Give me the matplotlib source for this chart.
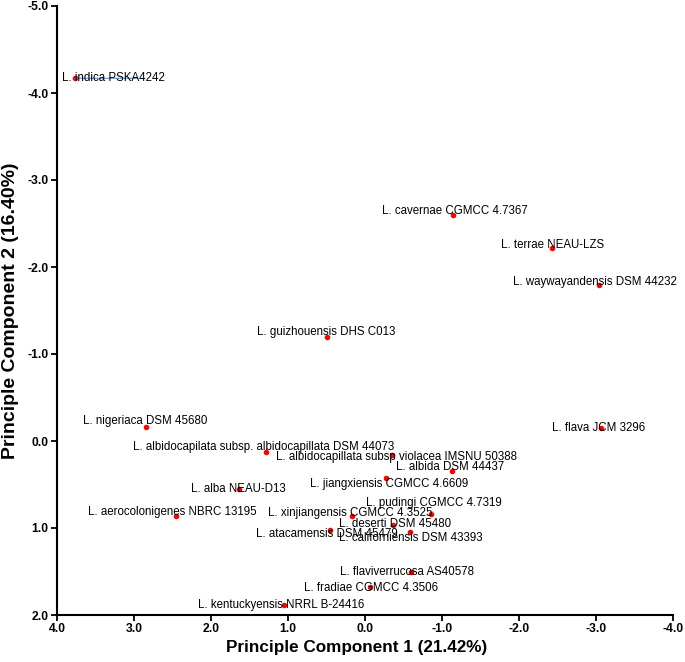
import matplotlib
matplotlib.use("Agg")
import matplotlib.pyplot as plt
from matplotlib.ticker import FormatStrFormatter

plt.rcParams['font.family'] = ['Liberation Sans', 'DejaVu Sans']

names = [
    "L. indica PSKA4242",
    "L. cavernae CGMCC 4.7367",
    "L. terrae NEAU-LZS",
    "L. waywayandensis DSM 44232",
    "L. guizhouensis DHS C013",
    "L. nigeriaca DSM 45680",
    "L. albidocapilata subsp. albidocapillata DSM 44073",
    "L. albidocapillata subsp violacea IMSNU 50388",
    "L. albida DSM 44437",
    "L. jiangxiensis CGMCC 4.6609",
    "L. flava JCM 3296",
    "L. alba NEAU-D13",
    "L. aerocolonigenes NBRC 13195",
    "L. pudingi CGMCC 4.7319",
    "L. xinjiangensis CGMCC 4.3525",
    "L. deserti DSM 45480",
    "L. californiensis DSM 43393",
    "L. atacamensis DSM 45479",
    "L. flaviverrucosa AS40578",
    "L. fradiae CGMCC 4.3506",
    "L. kentuckyensis NRRL B-24416",
]
pc1 = [3.77, -1.14, -2.43, -3.04, 0.49, 2.85, 1.28, -0.35, -1.13, -0.27, -3.07,
       1.63, 2.45, -0.86, 0.17, -0.36, -0.58, 0.45, -0.60, -0.07, 1.05]
pc2 = [-4.17, -2.60, -2.22, -1.79, -1.19, -0.16, 0.13, 0.16, 0.35, 0.42, -0.15,
       0.55, 0.86, 0.84, 0.86, 0.97, 1.05, 1.02, 1.51, 1.68, 1.88]

x_ticks = [4.0, 3.0, 2.0, 1.0, 0.0, -1.0, -2.0, -3.0, -4.0]
y_ticks = [-5.0, -4.0, -3.0, -2.0, -1.0, 0.0, 1.0, 2.0]

# label offsets in pixels (left edge of text relative to the point; dy downward)
label_dx = [-13, -71, -51, -86, -70, -63, -133, -116, -56, -76, -49, -48, -88,
            -65, -84, -54, -71, -74, -71, -66, -86]
label_dy = [0, -4, -3, -3, -5, -6, -5, 2, -4, 6, 0, 0, -4, -11, -3, -1, 6, 4, 0, 1, 0]
# leader lines: index -> relpos on text bbox
leaders = {0: (0.745, 0.5), 13: (0.51, 0.0)}

fig = plt.figure(figsize=(6.85, 6.62), dpi=100)
ax = fig.add_axes([57 / 685, 47 / 662, 616 / 685, 609 / 662])

ax.scatter(pc1, pc2, s=16, color='#ff0000', zorder=3, linewidths=0)

for i, (n, x, y) in enumerate(zip(names, pc1, pc2)):
    kw = {}
    if i in leaders:
        kw['arrowprops'] = dict(arrowstyle='-', color='#4f81bd', lw=0.7,
                                shrinkA=0, shrinkB=0, relpos=leaders[i])
    ax.annotate(n, xy=(x, y), xytext=(label_dx[i], -label_dy[i]),
                textcoords='offset pixels', ha='left', va='center',
                fontsize=8.3, color='black', zorder=4, **kw)

ax.set_xlim(max(x_ticks), min(x_ticks))
ax.set_ylim(max(y_ticks), min(y_ticks))
ax.set_xticks(x_ticks)
ax.set_yticks(y_ticks)
ax.xaxis.set_major_formatter(FormatStrFormatter('%.1f'))
ax.yaxis.set_major_formatter(FormatStrFormatter('%.1f'))
for lab in ax.get_xticklabels() + ax.get_yticklabels():
    lab.set_fontweight('bold')
ax.tick_params(axis='both', direction='out', length=4, width=1.3,
               labelsize=8.7, pad=2, colors='black')

for side in ['top', 'right']:
    ax.spines[side].set_visible(False)
for side in ['left', 'bottom']:
    ax.spines[side].set_linewidth(1.5)
    ax.spines[side].set_color('black')

ax.set_xlabel("Principle Component 1 (21.42%)", fontsize=12.3, fontweight='bold', labelpad=8)
ax.xaxis.set_label_coords(0.487, -0.041)
ax.set_ylabel("Principle Component 2 (16.40%)", fontsize=14, fontweight='bold', labelpad=6)

fig.savefig("out.png", dpi=100)
